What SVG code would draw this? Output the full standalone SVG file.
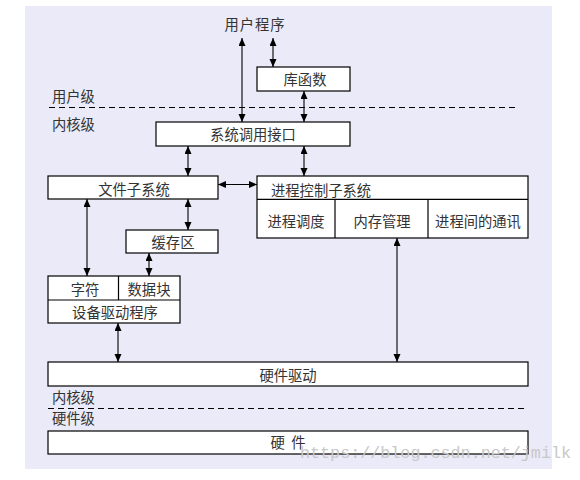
<svg xmlns="http://www.w3.org/2000/svg" width="580" height="480" viewBox="0 0 580 480">
<style>
.box{fill:#fff;stroke:#000;stroke-width:1.2}
.sep{stroke:#000;stroke-width:1.2;fill:none}
.t{font-family:"Noto Sans CJK SC","Noto Sans CJK TC",sans-serif;font-size:14.3px;fill:#333}
.c{text-anchor:middle}
.dash{stroke:#000;stroke-width:1;stroke-dasharray:6,4;fill:none}
.con{stroke:#000;stroke-width:1.1;fill:none;marker-start:url(#ah);marker-end:url(#ah)}
.wm{font-family:"Liberation Mono",monospace;font-size:16.8px;fill:#c8c8c8}
</style>
<defs>
<marker id="ah" markerUnits="userSpaceOnUse" markerWidth="9" markerHeight="8" refX="8" refY="3.5" orient="auto-start-reverse">
<path d="M0,0 L8,3.5 L0,7 z" fill="#000"/>
</marker>
</defs>
<rect x="25" y="6" width="527" height="463" fill="#EAEAF8"/>
<g id="levels">
<line class="dash" x1="49" y1="107.5" x2="518" y2="107.5"/>
<line class="dash" x1="48" y1="408.5" x2="525" y2="408.5"/>
<text class="t" x="52" y="102">用户级</text>
<text class="t" x="52" y="129.5">内核级</text>
<text class="t" x="52" y="403">内核级</text>
<text class="t" x="52" y="424">硬件级</text>
</g>
<g id="userprog"><text class="t c" x="255" y="30" letter-spacing="1">用户程序</text></g>
<g id="libfunc"><rect class="box" x="257" y="67" width="93" height="24"/><text class="t c" x="305" y="84.5">库函数</text></g>
<g id="syscall"><rect class="box" x="156" y="122" width="194" height="24"/><text class="t c" x="253" y="139.5">系统调用接口</text></g>
<g id="filesys"><rect class="box" x="48" y="176" width="170" height="23"/><text class="t c" x="134" y="194.5">文件子系统</text></g>
<g id="proc">
<rect class="box" x="257" y="176" width="271" height="62"/>
<line class="sep" x1="257" y1="199.3" x2="528" y2="199.3"/>
<line class="sep" x1="335" y1="199.3" x2="335" y2="238"/>
<line class="sep" x1="428" y1="199.3" x2="428" y2="238"/>
<text class="t" x="271" y="196">进程控制子系统</text>
<text class="t c" x="296" y="226.5">进程调度</text>
<text class="t c" x="382" y="226.5">内存管理</text>
<text class="t c" x="478" y="226.5">进程间的通讯</text>
</g>
<g id="cache"><rect class="box" x="126" y="230" width="92" height="23"/><text class="t c" x="173" y="247.5">缓存区</text></g>
<g id="device">
<rect class="box" x="48" y="276" width="132" height="47"/>
<line class="sep" x1="48" y1="300" x2="180" y2="300"/>
<line class="sep" x1="118.5" y1="276" x2="118.5" y2="300"/>
<text class="t c" x="85" y="295">字符</text>
<text class="t c" x="149" y="295">数据块</text>
<text class="t c" x="115" y="317.5">设备驱动程序</text>
</g>
<g id="hwdriver"><rect class="box" x="48" y="362" width="480" height="24"/><text class="t c" x="288" y="380.5">硬件驱动</text></g>
<g id="hw"><rect class="box" x="48" y="431" width="480" height="23"/><text class="t c" x="288" y="448" xml:space="preserve">硬  件</text></g>
<g id="connectors">
<line class="con" x1="242" y1="38" x2="242" y2="122"/>
<line class="con" x1="273" y1="38" x2="273" y2="67"/>
<line class="con" x1="304" y1="91" x2="304" y2="122"/>
<line class="con" x1="188" y1="146" x2="188" y2="176"/>
<line class="con" x1="304" y1="146" x2="304" y2="176"/>
<line class="con" x1="218" y1="184.5" x2="257" y2="184.5"/>
<line class="con" x1="87" y1="199" x2="87" y2="276"/>
<line class="con" x1="188" y1="199" x2="188" y2="230"/>
<line class="con" x1="149" y1="253" x2="149" y2="276"/>
<line class="con" x1="118" y1="323" x2="118" y2="362"/>
<line class="con" x1="397" y1="238" x2="397" y2="362"/>
</g>
<text class="wm" x="300" y="458" textLength="271" lengthAdjust="spacingAndGlyphs">https://blog.csdn.net/jmilk</text>
</svg>
